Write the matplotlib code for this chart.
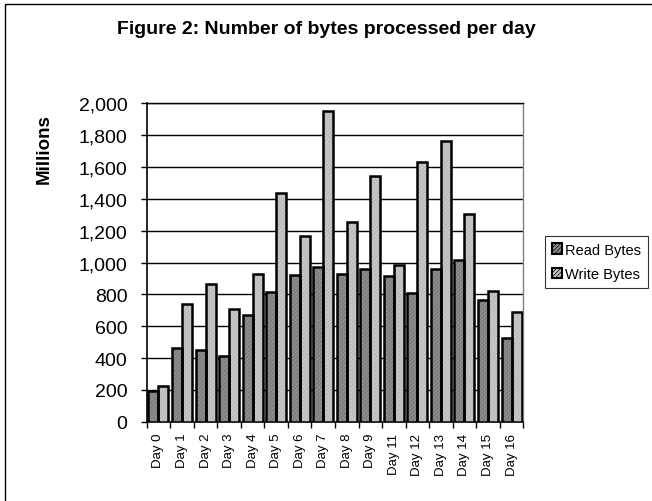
import numpy as np
import matplotlib
matplotlib.use('Agg')
import matplotlib.pyplot as plt
from matplotlib.patches import Rectangle
from matplotlib.ticker import FuncFormatter, FixedLocator

plt.rcParams['font.family'] = ['Liberation Sans', 'DejaVu Sans']
plt.rcParams['hatch.linewidth'] = 0.5

# Data (values in millions of bytes)
days = ['Day 0', 'Day 1', 'Day 2', 'Day 3', 'Day 4', 'Day 5', 'Day 6', 'Day 7',
        'Day 8', 'Day 9', 'Day 11', 'Day 12', 'Day 13', 'Day 14', 'Day 15', 'Day 16']
read_bytes = [195, 461, 452, 410, 670, 817, 919, 974,
              926, 957, 915, 808, 959, 1014, 764, 528]
write_bytes = [226, 739, 863, 708, 926, 1437, 1164, 1952,
               1252, 1543, 984, 1634, 1761, 1307, 821, 689]
y_ticks = list(range(0, 2001, 200))

read_color = '#8c8c8c'
write_color = '#c6c6c6'

fig = plt.figure(figsize=(6.52, 5.02), dpi=100)

# Outer chart frame (only left and top edges fall inside the image)
fig.patches.append(Rectangle((5 / 652, -1.0), 3.0, 1.0 + 497 / 502,
                             transform=fig.transFigure, fill=False,
                             edgecolor='black', linewidth=1.0))

ax = fig.add_axes([0.225, 0.158, 0.5776, 0.634])

x = np.arange(len(days))
w = 0.425

# Read bars: dark grey with fine texture, black outline
ax.bar(x - w / 2, read_bytes, w, color=read_color, hatch='////////',
       edgecolor='#707070', linewidth=0, zorder=3)
ax.bar(x - w / 2, read_bytes, w, fill=False, edgecolor='black',
       linewidth=1.8, zorder=4)
# Write bars: light grey with fine texture
ax.bar(x + w / 2, write_bytes, w, color=write_color, hatch='////////',
       edgecolor='#b2b2b2', linewidth=0, zorder=3)
ax.bar(x + w / 2, write_bytes, w, fill=False, edgecolor='black',
       linewidth=1.8, zorder=4)

ax.set_xlim(-0.5, len(days) - 0.5)
ax.set_ylim(0, 2000)

ax.yaxis.set_major_locator(FixedLocator(y_ticks))
ax.yaxis.set_major_formatter(FuncFormatter(lambda v, p: f'{int(v):,}'))
ax.tick_params(axis='y', labelsize=14, length=4, width=1, pad=10, direction='out')
ax.grid(axis='y', color='black', linewidth=1.0, zorder=1)

ax.set_xticks(x)
ax.set_xticklabels(days, rotation=90, fontsize=9.5)
ax.tick_params(axis='x', length=0, pad=8)
ax.set_xticks(np.arange(-0.5, len(days)), minor=True)
ax.tick_params(axis='x', which='minor', length=4, width=1, direction='out')

for s in ['left', 'bottom']:
    ax.spines[s].set_color('black')
    ax.spines[s].set_linewidth(1.2)
ax.spines['top'].set_color('black')
ax.spines['top'].set_linewidth(1.0)
ax.spines['right'].set_color('#808080')
ax.spines['right'].set_linewidth(1.0)

ax.set_ylabel('Millions', fontsize=13.5, fontweight='bold')
ax.yaxis.set_label_coords(-0.25, 0.86)

fig.text(0.5, 1 - 30 / 502, 'Figure 2: Number of bytes processed per day',
         ha='center', va='center', fontsize=14, fontweight='bold')

h1 = Rectangle((0, 0), 1, 1, facecolor=read_color, hatch='////////',
               edgecolor='black', linewidth=1.5)
h2 = Rectangle((0, 0), 1, 1, facecolor=write_color, hatch='////////',
               edgecolor='black', linewidth=1.5)
leg = fig.legend([h1, h2], ['Read Bytes', 'Write Bytes'], loc='center left',
                 bbox_to_anchor=(545 / 652, 1 - 263 / 502), fontsize=10.5,
                 frameon=True, fancybox=False, edgecolor='black',
                 handlelength=0.7, handleheight=0.7, handletextpad=0.25,
                 borderpad=0.45, labelspacing=0.75, borderaxespad=0)
leg.get_frame().set_linewidth(0.8)

fig.savefig('out.png', dpi=100)
